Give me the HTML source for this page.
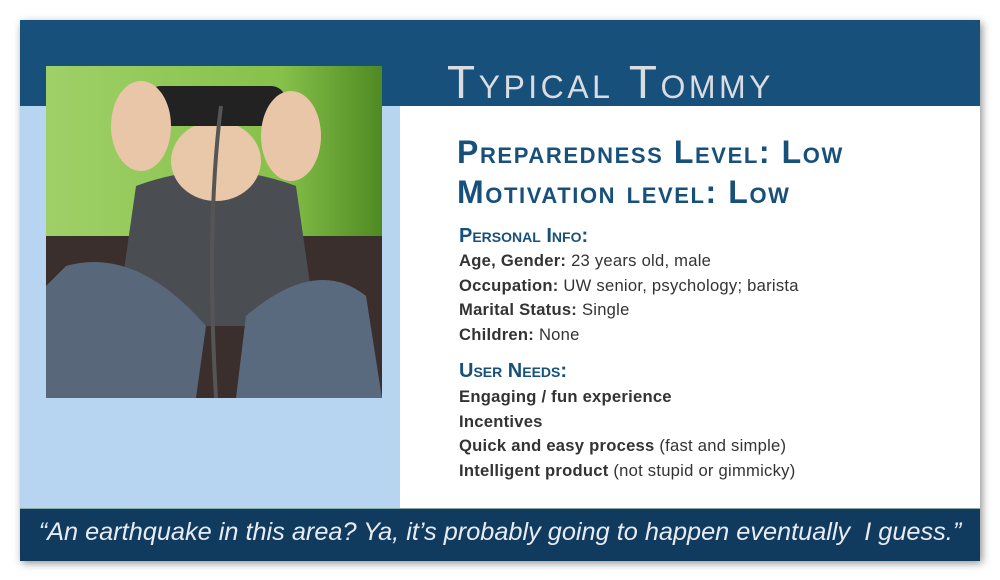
<!DOCTYPE html>
<html><head><meta charset="utf-8"><style>
body{margin:0;width:1000px;height:580px;background:#fff;position:relative;overflow:hidden;font-family:"Liberation Sans",sans-serif}
.abs{position:absolute}
#card{left:20px;top:20px;width:960px;height:540px;box-shadow:2px 3px 8px rgba(0,0,0,.45);background:#fff}
.sc{font-variant:small-caps}
.info{font-size:16.6px;letter-spacing:0.25px;color:#333;line-height:24.5px}
.info b{color:#333}
</style></head><body>
<div id="card" class="abs">
 <div class="abs" style="left:0;top:0;width:960px;height:86px;background:#18507c"></div>
 <div class="abs" style="left:0;top:86px;width:380px;height:402px;background:#b7d4f0"></div>
 <div class="abs" style="left:0;top:488px;width:960px;height:52px;background:#103b5f;border-top:1px solid #8aa"></div>
</div>
<svg class="abs" style="left:46px;top:66px" width="336" height="332" viewBox="0 0 336 332">
 <defs><linearGradient id="g" x1="0" x2="1"><stop offset="0" stop-color="#9fd068"/><stop offset=".7" stop-color="#86c14a"/><stop offset="1" stop-color="#4e8a22"/></linearGradient></defs>
 <rect width="336" height="332" fill="url(#g)"/>
 <rect x="0" y="170" width="336" height="162" fill="#3a2f2c"/>
 <path d="M90 120 Q170 90 250 120 L270 260 L70 260 Z" fill="#4a4d52"/>
 <path d="M20 200 Q90 180 160 260 L150 332 L0 332 L0 220 Z" fill="#58677a"/>
 <path d="M200 250 Q270 190 320 230 L336 332 L190 332 Z" fill="#5a6a7e"/>
 <ellipse cx="170" cy="95" rx="45" ry="40" fill="#e8c8a8"/>
 <rect x="100" y="20" width="140" height="40" rx="15" fill="#222"/>
 <ellipse cx="95" cy="60" rx="30" ry="45" fill="#e9c6a8"/>
 <ellipse cx="245" cy="70" rx="30" ry="45" fill="#e9c6a8"/>
 <path d="M175 40 Q160 160 170 332" stroke="#555" stroke-width="4" fill="none"/>
</svg>
<div class="abs" style="left:447px;top:57px;font-size:46px;color:#d9dde2;font-variant:small-caps;letter-spacing:3.5px;line-height:50px">Typical Tommy</div>
<div class="abs sc" style="left:457px;top:132px;font-size:32px;font-weight:bold;color:#18507c;line-height:40px;letter-spacing:1.6px">Preparedness Level: Low<br>Motivation level: Low</div>
<div class="abs sc" style="left:459px;top:225px;font-size:20px;font-weight:bold;color:#18507c">Personal Info:</div>
<div class="abs info" style="left:459px;top:249px">
<div><b>Age, Gender:</b> 23 years old, male</div>
<div><b>Occupation:</b> UW senior, psychology; barista</div>
<div><b>Marital Status:</b> Single</div>
<div><b>Children:</b> None</div></div>
<div class="abs sc" style="left:459px;top:360px;font-size:20px;font-weight:bold;color:#18507c">User Needs:</div>
<div class="abs info" style="left:459px;top:385px">
<div><b>Engaging / fun experience</b></div>
<div><b>Incentives</b></div>
<div><b>Quick and easy process</b> (fast and simple)</div>
<div><b>Intelligent product</b> (not stupid or gimmicky)</div></div>
<div class="abs" style="left:20px;top:518px;width:960px;text-align:center;font-size:25.3px;font-style:italic;color:#e6ecf2">“An earthquake in this area? Ya, it’s probably going to happen eventually&nbsp; I guess.”</div>
</body></html>
